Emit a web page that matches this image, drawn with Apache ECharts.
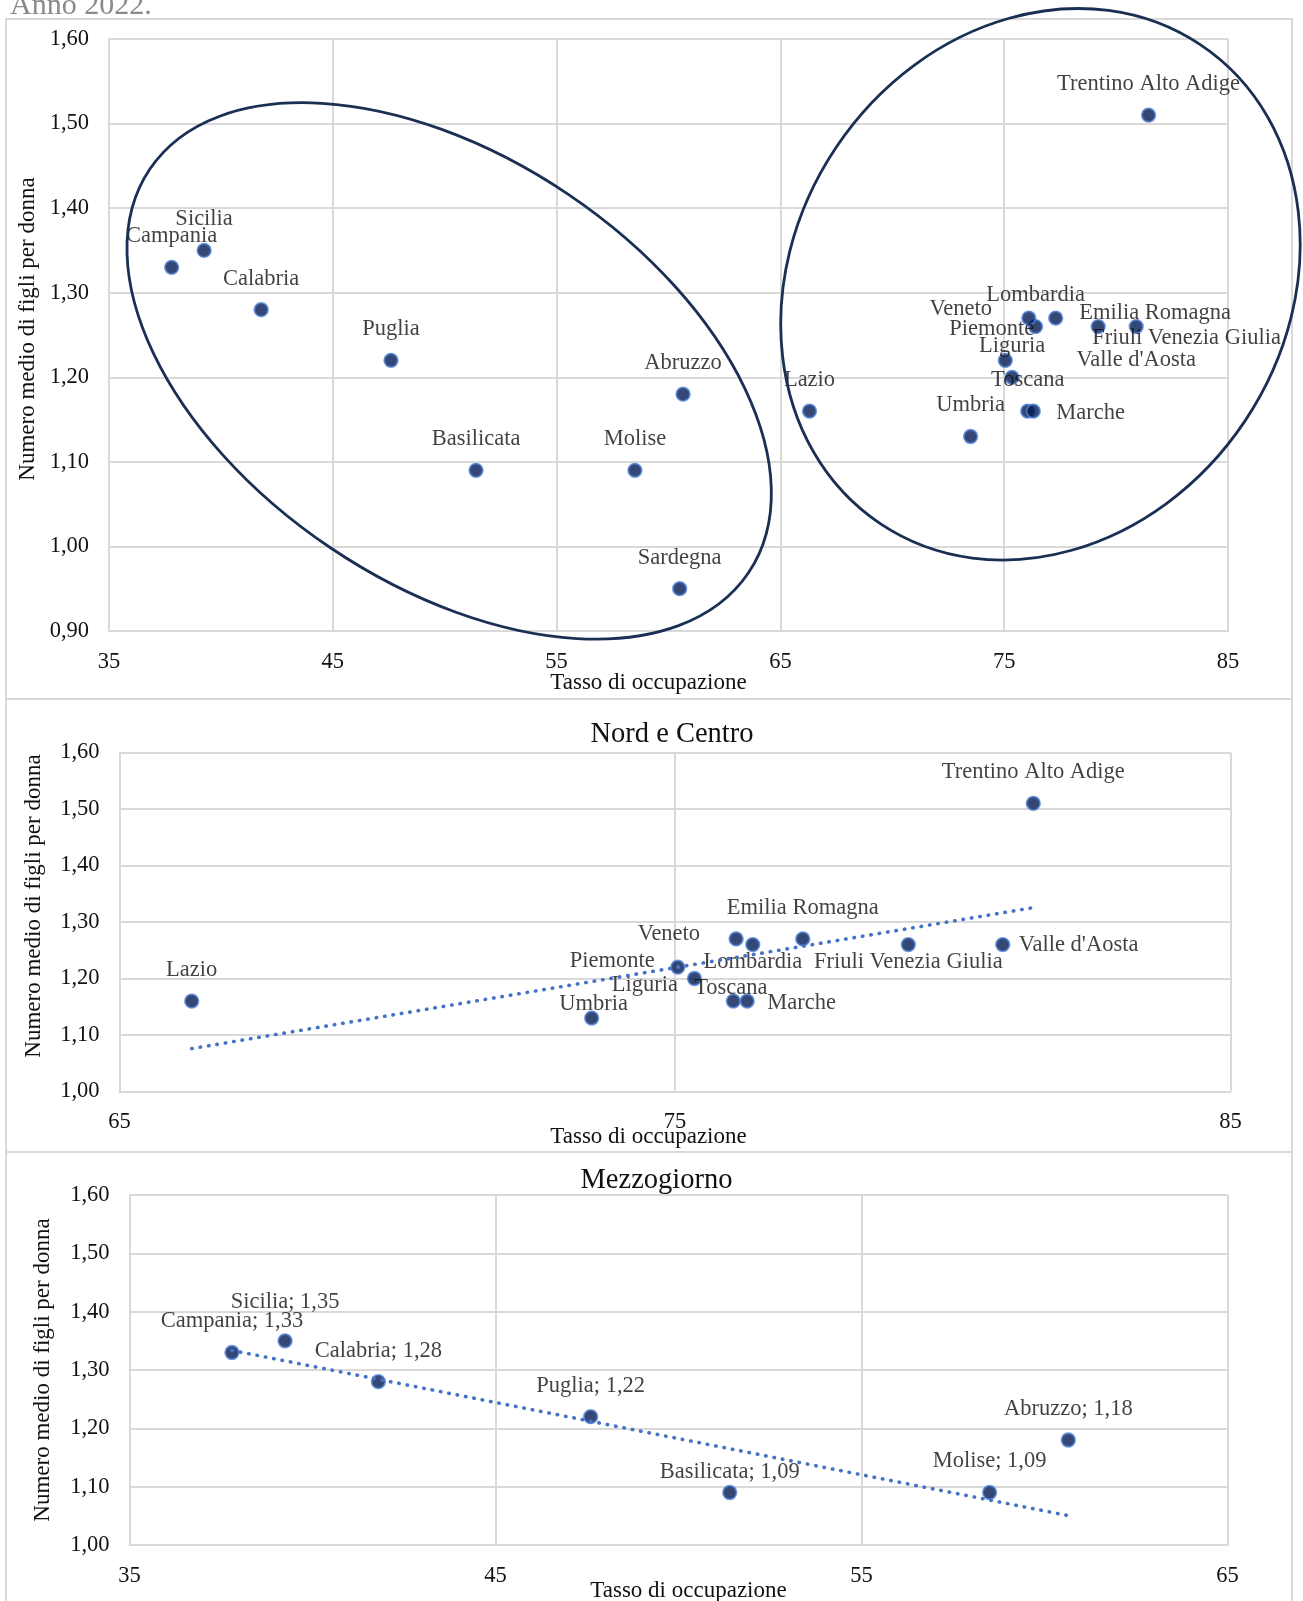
<!DOCTYPE html>
<html><head><meta charset="utf-8">
<script src="https://cdn.jsdelivr.net/npm/echarts@6/dist/echarts.min.js"></script>
<style>html,body{margin:0;padding:0;background:#fff}#c{width:1303px;height:1601px}</style>
</head><body><div id="c"></div>
<script>
// ---------- DATA ----------
const regioni = ['Piemonte', "Valle d'Aosta", 'Lombardia', 'Trentino Alto Adige', 'Veneto',
  'Friuli Venezia Giulia', 'Liguria', 'Emilia Romagna', 'Toscana', 'Umbria', 'Marche', 'Lazio',
  'Abruzzo', 'Molise', 'Campania', 'Puglia', 'Basilicata', 'Calabria', 'Sicilia', 'Sardegna'];
const tassoOccupazione = [75.05, 80.9, 76.4, 81.45, 76.1, 79.2, 75.35, 77.3, 76.05, 73.5, 76.3, 66.3,
  60.65, 58.5, 37.8, 47.6, 51.4, 41.8, 39.25, 60.5];
const figliPerDonna = [1.22, 1.26, 1.26, 1.51, 1.27, 1.26, 1.20, 1.27, 1.16, 1.13, 1.16, 1.16,
  1.18, 1.09, 1.33, 1.22, 1.09, 1.28, 1.35, 0.95];
const nordCentro = ['Piemonte', "Valle d'Aosta", 'Lombardia', 'Trentino Alto Adige', 'Veneto',
  'Friuli Venezia Giulia', 'Liguria', 'Emilia Romagna', 'Toscana', 'Umbria', 'Marche', 'Lazio'];
const mezzogiorno = ['Abruzzo', 'Molise', 'Campania', 'Puglia', 'Basilicata', 'Calabria', 'Sicilia', 'Sardegna'];

const xTicksItalia = [35, 45, 55, 65, 75, 85];
const yTicksItalia = [0.90, 1.00, 1.10, 1.20, 1.30, 1.40, 1.50, 1.60];
const xTicksNord = [65, 75, 85];
const xTicksSud = [35, 45, 55, 65];
const yTicksParti = [1.00, 1.10, 1.20, 1.30, 1.40, 1.50, 1.60];

const sottotitolo = 'Anno 2022.';
const titoloNord = 'Nord e Centro';
const titoloSud = 'Mezzogiorno';
const nomeAsseX = 'Tasso di occupazione';
const nomeAsseY = 'Numero medio di figli per donna';

// annotation ellipses (centre in data units)
const ellisseSud = { centre: [50.2, 1.2075], rx: 361, ry: 213, angle: -34 };
const ellisseNord = { centre: [76.62, 1.31], rx: 288, ry: 246, angle: 56.2 };

// ---------- STYLE ----------
const FONT = '"Liberation Serif", "DejaVu Serif", serif';
const TXT = '#111';
const GRIDC = '#d9d9d9';
const fmtY = v => (Math.round(v * 100) / 100).toFixed(2).replace('.', ',');

const labelsItalia = {
  'Veneto': { offset: [-68, -9] },
  'Piemonte': { offset: [-13.5, -31.5] },
  'Emilia Romagna': { align: 'left', offset: [23.5, -5] },
  'Friuli Venezia Giulia': { align: 'left', offset: [-6, 12] },
  "Valle d'Aosta": { offset: [0, 34] },
  'Marche': { align: 'left', offset: [23, 1.5] }
};
const labelsNord = {
  'Veneto': { align: 'right', offset: [-36, -5] },
  'Piemonte': { align: 'right', offset: [-23, -6] },
  'Lombardia': { offset: [0, 17] },
  'Friuli Venezia Giulia': { offset: [0, 17] },
  "Valle d'Aosta": { align: 'left', offset: [16, 0] },
  'Liguria': { align: 'right', offset: [-16.5, 7] },
  'Toscana': { offset: [-2.5, -13] },
  'Marche': { align: 'left', offset: [20, 1.5] },
  'Umbria': { offset: [2, -14] }
};
const labelsSud = {
  'Sicilia': { offset: [0, -39] },
  'Basilicata': { offset: [0, -20.5] }
};

function idx(n) { return regioni.indexOf(n); }

function buildPoints(names, specs, withValue, yMin) {
  const out = [];
  names.forEach(n => {
    const i = idx(n);
    const x = tassoOccupazione[i], y = figliPerDonna[i];
    if (yMin !== undefined && y < yMin) return;
    const s = specs[n] || {};
    out.push({
      name: n,
      value: [x, y],
      label: {
        show: true,
        position: 'inside',
        align: s.align || 'center',
        verticalAlign: 'middle',
        offset: s.offset || [0, -31],
        formatter: withValue ? (n + '; ' + fmtY(y)) : n
      }
    });
  });
  return out;
}

function trend(names) {
  const xs = names.map(n => tassoOccupazione[idx(n)]);
  const ys = names.map(n => figliPerDonna[idx(n)]);
  const k = xs.length;
  const mx = xs.reduce((a, b) => a + b, 0) / k;
  const my = ys.reduce((a, b) => a + b, 0) / k;
  let sxy = 0, sxx = 0;
  for (let j = 0; j < k; j++) { sxy += (xs[j] - mx) * (ys[j] - my); sxx += (xs[j] - mx) ** 2; }
  const b = sxy / sxx, a = my - b * mx;
  const x0 = Math.min(...xs), x1 = Math.max(...xs);
  return [[x0, a + b * x0], [x1, a + b * x1]];
}

const grids = [
  { left: 109, top: 39, width: 1119, height: 592, outerBoundsMode: 'none', containLabel: false },
  { left: 119.5, top: 752.5, width: 1111, height: 339, outerBoundsMode: 'none', containLabel: false },
  { left: 129.5, top: 1195, width: 1098, height: 350, outerBoundsMode: 'none', containLabel: false }
];

function xAxis(gi, ticks, gap, pad) {
  return {
    type: 'value', gridIndex: gi, min: ticks[0], max: ticks[ticks.length - 1],
    interval: ticks[1] - ticks[0],
    name: nomeAsseX, nameLocation: 'middle', nameGap: gap, nameMoveOverlap: false,
    nameTextStyle: { fontFamily: FONT, fontSize: 23, color: TXT, padding: pad },
    axisLine: { show: true, lineStyle: { color: GRIDC, width: 2 } },
    axisTick: { show: false },
    axisLabel: { margin: 19.5, fontFamily: FONT, fontSize: 22.5, color: TXT },
    splitLine: { show: true, lineStyle: { color: GRIDC, width: 2 } }
  };
}
function yAxis(gi, ticks, gap, pad) {
  return {
    type: 'value', gridIndex: gi, min: ticks[0], max: ticks[ticks.length - 1],
    interval: 0.1,
    name: nomeAsseY, nameLocation: 'middle', nameGap: gap, nameMoveOverlap: false,
    nameTextStyle: { fontFamily: FONT, fontSize: 23, color: TXT, padding: pad },
    axisLine: { show: true, lineStyle: { color: GRIDC, width: 2 } },
    axisTick: { show: false },
    axisLabel: { margin: 20, fontFamily: FONT, fontSize: 22.5, color: TXT, formatter: fmtY },
    splitLine: { show: true, lineStyle: { color: GRIDC, width: 2 } }
  };
}

const markerStyle = { color: '#021a52', borderColor: '#4d7fd6', borderWidth: 1.8 };
const labelStyle = { fontFamily: FONT, fontSize: 22.5, color: TXT };
const trendStyle = { color: '#4472c4', width: 3.6, type: [0.5, 8], cap: 'round' };

function scatter(gi, data) {
  return {
    type: 'scatter', xAxisIndex: gi, yAxisIndex: gi, data: data,
    symbolSize: 13.5, itemStyle: markerStyle, label: labelStyle,
    emphasis: { disabled: true }, z: 3, clip: true
  };
}
function trendSeries(gi, names) {
  return {
    type: 'line', xAxisIndex: gi, yAxisIndex: gi, data: trend(names),
    symbol: 'none', lineStyle: trendStyle, silent: true, z: 4
  };
}

const option = {
  animation: false,
  backgroundColor: '#fff',
  grid: grids,
  xAxis: [xAxis(0, xTicksItalia, 40, [0, 40, 0, 0]), xAxis(1, xTicksNord, 34, [0, 53, 0, 0]), xAxis(2, xTicksSud, 34, [0, 0, 0, 20])],
  yAxis: [yAxis(0, yTicksItalia, 70, [0, 0, 0, 12]), yAxis(1, yTicksParti, 74, [0, 0, 0, 32]), yAxis(2, yTicksParti, 75, [0, 0, 0, 0])],
  series: [
    scatter(0, buildPoints(regioni, labelsItalia, false)),
    scatter(1, buildPoints(nordCentro, labelsNord, false)),
    trendSeries(1, nordCentro),
    scatter(2, buildPoints(mezzogiorno, labelsSud, true, yTicksParti[0])),
    trendSeries(2, mezzogiorno)
  ]
};

const chart = echarts.init(document.getElementById('c'), null, { renderer: 'canvas', width: 1303, height: 1601 });
chart.setOption(option);

function ellipseEl(e) {
  const p = chart.convertToPixel({ gridIndex: 0 }, e.centre);
  return {
    type: 'ellipse', x: p[0], y: p[1], rotation: e.angle * Math.PI / 180,
    shape: { cx: 0, cy: 0, rx: e.rx, ry: e.ry },
    style: { fill: null, stroke: '#1b2f55', lineWidth: 2.8 },
    z: 100, silent: true
  };
}
function textEl(t, x, y, size, color, align) {
  return {
    type: 'text', x: x, y: y, z: 50, silent: true,
    style: { text: t, font: size + 'px ' + FONT, fill: color, align: align, textAlign: align,
      verticalAlign: 'middle', textVerticalAlign: 'middle' }
  };
}
function boxEl(x, y, w, h) {
  return { type: 'rect', shape: { x: x, y: y, width: w, height: h }, z: -10, silent: true,
    style: { fill: null, stroke: GRIDC, lineWidth: 2 } };
}

chart.setOption({
  graphic: [
    boxEl(6, 19, 1286, 680),
    boxEl(6, 699, 1286, 453),
    boxEl(6, 1152, 1286, 470),
    textEl(sottotitolo, 10, 6, 30, '#8a8a8a', 'left'),
    textEl(titoloNord, 672, 735, 28.5, TXT, 'center'),
    textEl(titoloSud, 656.5, 1180.5, 28.5, TXT, 'center'),
    ellipseEl(ellisseSud),
    ellipseEl(ellisseNord)
  ]
});
</script>
</body></html>
